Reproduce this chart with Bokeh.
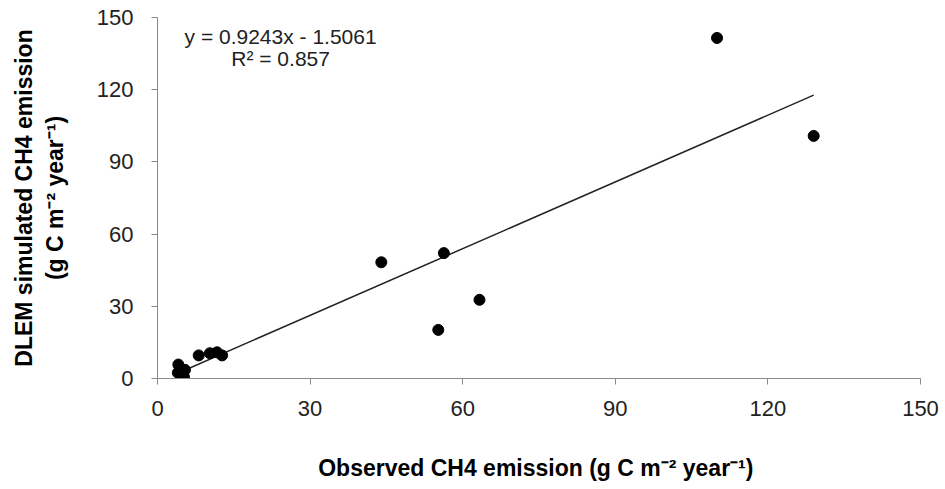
import numpy as np
from bokeh.plotting import figure
from bokeh.models import Range1d, Label, FixedTicker, LinearAxis
from bokeh.embed import file_html
from bokeh.resources import INLINE

# Data
observed = [110.0, 129.0, 44.0, 56.3, 55.2, 63.3, 4.1, 4.0, 5.2, 5.4, 8.1, 10.3, 11.7, 12.7]
simulated = [141.5, 100.8, 48.3, 52.1, 20.2, 32.7, 5.8, 2.4, 0.6, 3.6, 9.6, 10.5, 10.9, 9.6]
x_ticks = [0, 30, 60, 90, 120, 150]
y_ticks = [0, 30, 60, 90, 120, 150]
slope = 0.9243
intercept = -1.5061
r_squared = 0.857

x_title = "Observed  CH4 emission (g C m\u207b\u00b2 year\u207b\u00b9)"
y_title_1 = "DLEM simulated CH4 emission"
y_title_2 = "(g C m\u207b\u00b2 year\u207b\u00b9)"
eq_text = "y = %.4fx - %.4f" % (slope, -intercept)
r2_text = "R\u00b2 = %.3f" % r_squared

TITLE_FONT = "Liberation Sans"
TITLE_SIZE = "23px"

p = figure(width=945, height=489, output_backend="svg", toolbar_location=None,
           x_range=Range1d(0, 150), y_range=Range1d(0, 150),
           min_border_left=157, min_border_right=25, min_border_top=17, min_border_bottom=111)
p.outline_line_color = None
p.xgrid.visible = False
p.ygrid.visible = False
p.background_fill_color = "white"
p.border_fill_color = "white"

for ax, t in ((p.xaxis, x_ticks), (p.yaxis, y_ticks)):
    ax.ticker = FixedTicker(ticks=t)
    ax.axis_line_color = "#8a8a8a"
    ax.major_tick_line_color = "#8a8a8a"
    ax.minor_tick_line_color = None
    ax.major_tick_in = 0
    ax.major_tick_out = 6
    ax.major_label_text_font = "Liberation Sans"
    ax.major_label_text_font_size = "22px"
    ax.major_label_text_color = "#222222"
    ax.axis_label_text_font = TITLE_FONT
    ax.axis_label_text_font_style = "bold"
    ax.axis_label_text_font_size = TITLE_SIZE
    ax.axis_label_text_color = "black"

p.yaxis.major_label_standoff = 18
p.xaxis.major_label_standoff = 16

p.xaxis.axis_label = x_title
p.xaxis.axis_label_standoff = 36

# inner line of the y title goes on the main y axis
p.yaxis.axis_label = y_title_2
p.yaxis.axis_label_standoff = 26

# outer line of the y title on an extra, otherwise invisible, left axis
outer = LinearAxis(ticker=FixedTicker(ticks=[]), axis_label=y_title_1)
outer.axis_line_color = None
outer.major_tick_line_color = None
outer.minor_tick_line_color = None
outer.axis_label_text_font = TITLE_FONT
outer.axis_label_text_font_style = "bold"
outer.axis_label_text_font_size = TITLE_SIZE
outer.axis_label_text_color = "black"
outer.axis_label_standoff = 2
p.add_layout(outer, "left")

# trend line
xs = np.array([min(observed), max(observed)])
p.line(xs, slope * xs + intercept, line_color="#222222", line_width=1.5)

# points
p.scatter(observed, simulated, size=11, marker="circle", fill_color="black", line_color="black")

# equation
p.add_layout(Label(x=24.2, y=142.1, text=eq_text, text_align="center", text_baseline="middle",
                   text_font="Liberation Sans", text_font_size="21px", text_color="#222222"))
p.add_layout(Label(x=24.2, y=133.0, text=r2_text, text_align="center", text_baseline="middle",
                   text_font="Liberation Sans", text_font_size="21px", text_color="#222222"))

open("out.html", "w").write(file_html(p, INLINE))
